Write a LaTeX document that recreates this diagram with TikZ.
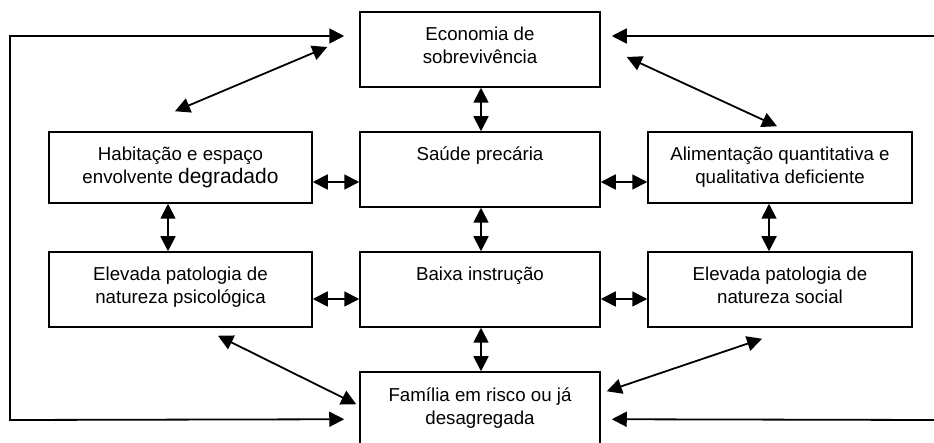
\documentclass[tikz,border=0pt]{standalone}
\usepackage{fontspec}
\setmainfont{Liberation Sans}
\usetikzlibrary{arrows.meta}
\newcommand{\boxtext}[3]{\parbox[c][#2][t]{#1}{\centering\rule{0pt}{29pt}#3}}
\tikzset{
  box/.style={draw, line width=1.5pt, inner sep=0pt, font=\fontsize{18.7}{23}\selectfont},
  dbl/.style={line width=1.8pt, {Triangle[length=15pt,width=15pt]}-{Triangle[length=15pt,width=15pt]}},
  sgl/.style={line width=1.8pt, -{Triangle[length=15pt,width=15pt]}}
}
\begin{document}
\begin{tikzpicture}[x=1pt,y=-1pt]
\useasboundingbox (0,0) rectangle (934,443);
\node[box] (eco) at (480,49.5) {\boxtext{240pt}{75pt}{Economia de\\sobrevivência}};
\node[box] (hab) at (180.5,167.5) {\boxtext{263pt}{71pt}{Habitação e espaço\\envolvente {\fontsize{21}{23}\selectfont degradado}}};
\node[box] (sau) at (480,169.5) {\boxtext{240pt}{75pt}{Saúde precária}};
\node[box] (ali) at (780,167.5) {\boxtext{264pt}{71pt}{Alimentação quantitativa e\\qualitativa deficiente}};
\node[box] (psi) at (180.5,289.5) {\boxtext{263pt}{75pt}{Elevada patologia de\\natureza psicológica}};
\node[box] (bai) at (480,289.5) {\boxtext{240pt}{75pt}{Baixa instrução}};
\node[box] (soc) at (780,289.5) {\boxtext{264pt}{75pt}{Elevada patologia de\\natureza social}};
\node[box] (fam) at (480,409.5) {\boxtext{240pt}{75pt}{Família em risco ou já\\desagregada}};
% vertical links
\draw[dbl] (eco.south) ++(1pt,0) coordinate (e1) -- (e1 |- sau.north);
\draw[dbl] ([xshift=1pt]sau.south) -- ([xshift=1pt]bai.north);
\draw[dbl] ([xshift=1pt]bai.south) -- ([xshift=1pt]fam.north);
\draw[dbl] ([xshift=-12.5pt]hab.south) -- ([xshift=-12.5pt]hab.south |- psi.north);
\draw[dbl] ([xshift=-11pt]ali.south) -- ([xshift=-11pt]ali.south |- soc.north);
% horizontal links
\draw[dbl] ([yshift=-14.5pt]hab.east) -- ([yshift=-14.5pt]hab.east -| sau.west);
\draw[dbl] ([yshift=-14.5pt]ali.west -| sau.east) -- ([yshift=-14.5pt]ali.west);
\draw[dbl] ([yshift=-9.5pt]psi.east) -- ([yshift=-9.5pt]bai.west);
\draw[dbl] ([yshift=-9.5pt]bai.east) -- ([yshift=-9.5pt]soc.west);
% diagonals
\draw[dbl] ([xshift=-32pt,yshift=2.5pt]eco.west) -- ([xshift=-5.5pt,yshift=20pt]hab.north);
\draw[dbl] ([xshift=26pt,yshift=-7.5pt]eco.east) -- ([xshift=-3pt,yshift=5pt]ali.north);
\draw[dbl] ([xshift=37.5pt,yshift=-8pt]psi.south) -- ([xshift=-3pt,yshift=-33pt]fam.north west);
\draw[dbl] ([xshift=-18pt,yshift=-11pt]soc.south) -- ([xshift=6pt,yshift=-20pt]fam.north east);
% outer loops
\coordinate (ltop) at (10,36);
\coordinate (lbot) at (10,420);
\coordinate (rtop) at (936,36);
\coordinate (rbot) at (936,420);
\draw[dbl] ([xshift=-15pt,yshift=13.5pt]eco.west) -- (ltop) -- (lbot) -- ([xshift=-15pt,yshift=-48pt]fam.north west);
\draw[sgl] (rtop) -- ([xshift=11pt,yshift=13.5pt]eco.east);
\draw[sgl] (rbot) -- ([xshift=11pt,yshift=-48pt]fam.north east);
\end{tikzpicture}
\end{document}
